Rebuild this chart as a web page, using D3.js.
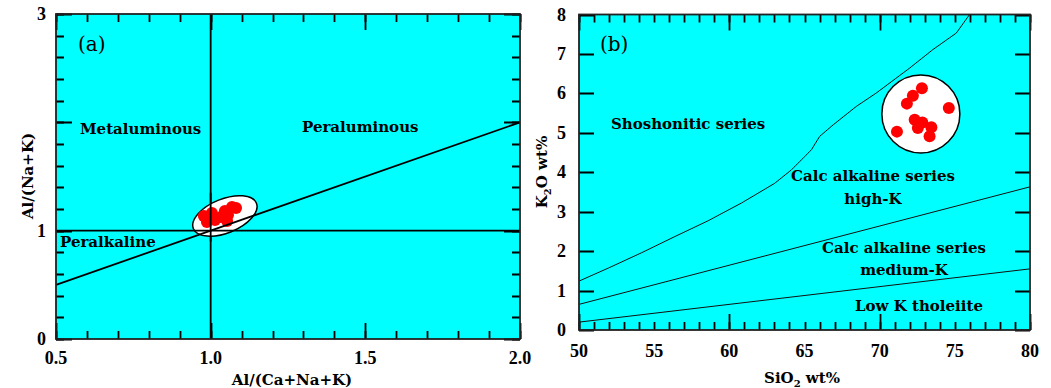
<!DOCTYPE html>
<html>
<head>
<meta charset="UTF-8">
<title>A/NK vs A/CNK and K2O vs SiO2</title>
<style>
  body { margin: 0; background: #fff; }
  text { font-family: "DejaVu Serif", "Liberation Serif", serif; fill: #000; }
  .lbl { font-weight: bold; font-size: 15px; }
  .tick-lbl { font-family: "Liberation Serif", serif; font-weight: bold; font-size: 18px; }
</style>
</head>
<body>
<script src="https://d3js.org/d3.v7.min.js"></script>
<svg width="1051" height="388"></svg>
<script>
// ---- panel (a) data: A/NK vs A/CNK ----
var aXTicks = [0.5, 1.0, 1.5, 2.0];
var aYTicks = [0, 1, 3];
var acnk = [0.978, 0.988, 1.004, 1.014, 1.033, 1.046, 1.056, 1.069, 1.082, 1.053];
var ank  = [1.136, 1.080, 1.163, 1.099, 1.126, 1.182, 1.145, 1.219, 1.210, 1.090];

// ---- panel (b) data: K2O vs SiO2 ----
var bXTicks = [50, 55, 60, 65, 70, 75, 80];
var bYTicks = [0, 1, 2, 3, 4, 5, 6, 7, 8];
var sio2 = [72.81, 72.21, 71.81, 74.60, 72.33, 72.84, 72.54, 73.44, 73.32, 71.15];
var k2o  = [6.13, 5.94, 5.74, 5.63, 5.33, 5.26, 5.12, 5.14, 4.91, 5.03];

// series boundaries
var lowKLine = [[50, 0.2], [80, 1.55]];
var mediumKLine = [[50, 0.65], [80, 3.63]];
var highKCurve = [[50, 1.24], [51.95, 1.57], [54.17, 1.96], [56.38, 2.37], [58.59, 2.77],
  [60.81, 3.22], [63.02, 3.72], [64.13, 4.06], [65.02, 4.40], [65.46, 4.57], [66.01, 4.91],
  [66.9, 5.20], [68.45, 5.67], [69.78, 6.01], [71.99, 6.64], [73.54, 7.11], [75.10, 7.53], [75.98, 8.0]];

var svg = d3.select("svg");
var cyan = "#00ffff";

// inward ticks on one side of a frame, drawn as one path
function ticks(g, scale, vals, len, side, at) {
  var p = d3.path();
  vals.forEach(function(d) {
    var v = Math.round(scale(d)) + 0.5;
    if (side == "b") { p.moveTo(v, at); p.lineTo(v, at - len); }
    if (side == "t") { p.moveTo(v, at); p.lineTo(v, at + len); }
    if (side == "l") { p.moveTo(at, v); p.lineTo(at + len, v); }
    if (side == "r") { p.moveTo(at, v); p.lineTo(at - len, v); }
  });
  g.append("path").attr("d", p.toString())
    .attr("fill", "none").attr("stroke", "#000").attr("stroke-width", 1.8);
}

// ================= panel (a) =================
var xA = d3.scaleLinear().domain([0.5, 2.0]).range([56, 520]);
var yA = d3.scaleLinear().domain([0, 3]).range([339, 14]);

var ga = svg.append("g");
ga.append("rect").attr("x", xA(0.5)).attr("y", yA(3))
  .attr("width", xA(2) - xA(0.5)).attr("height", yA(0) - yA(3))
  .attr("fill", cyan);

ga.append("line").attr("x1", xA(1)).attr("x2", xA(1)).attr("y1", yA(0)).attr("y2", yA(3))
  .attr("stroke", "#000").attr("stroke-width", 1.8);

// ellipse around samples
ga.append("ellipse")
  .attr("transform", "translate(" + xA(1.046) + "," + yA(1.136) + ") rotate(-22)")
  .attr("rx", 34).attr("ry", 17)
  .attr("fill", "#fff").attr("stroke", "#000").attr("stroke-width", 1.5);

ga.selectAll(".ptA").data(acnk).enter().append("circle")
  .attr("class", "ptA")
  .attr("cx", function(d) { return xA(d); })
  .attr("cy", function(d, i) { return yA(ank[i]); })
  .attr("r", 6).attr("fill", "#ff0000");

ga.append("line").attr("x1", xA(1)).attr("x2", xA(1)).attr("y1", yA(0.9)).attr("y2", yA(1.35))
  .attr("stroke", "#000").attr("stroke-width", 1.8);
ga.append("line").attr("x1", xA(0.5)).attr("x2", xA(2)).attr("y1", yA(0.5)).attr("y2", yA(2))
  .attr("stroke", "#000").attr("stroke-width", 1.8);
ga.append("line").attr("x1", xA(0.5)).attr("x2", xA(2)).attr("y1", yA(1)).attr("y2", yA(1))
  .attr("stroke", "#000").attr("stroke-width", 1.8);

var aMinorX = d3.range(0.5, 2.001, 0.1), aMajorX = [0.5, 1.0, 1.5, 2.0];
var aMinorY = d3.range(0, 3.001, 0.2), aMajorY = [0, 1, 2, 3];
ticks(ga, xA, aMinorX, 8, "b", yA(0));
ticks(ga, xA, aMajorX, 16, "b", yA(0));
ticks(ga, xA, aMinorX, 8, "t", yA(3));
ticks(ga, xA, aMajorX, 16, "t", yA(3));
ticks(ga, yA, aMinorY, 8, "l", xA(0.5));
ticks(ga, yA, aMajorY, 16, "l", xA(0.5));
ticks(ga, yA, aMinorY, 8, "r", xA(2));
ticks(ga, yA, aMajorY, 16, "r", xA(2));

ga.append("rect").attr("x", xA(0.5)).attr("y", yA(3))
  .attr("width", xA(2) - xA(0.5)).attr("height", yA(0) - yA(3))
  .attr("fill", "none").attr("stroke", "#222").attr("stroke-width", 1.8);

// tick labels
ga.selectAll(".xlA").data(aXTicks).enter().append("text")
  .attr("class", "tick-lbl").attr("text-anchor", "middle")
  .attr("x", function(d) { return xA(d); }).attr("y", 364)
  .text(function(d) { return d.toFixed(1); });
ga.selectAll(".ylA").data(aYTicks).enter().append("text")
  .attr("class", "tick-lbl").attr("text-anchor", "end")
  .attr("x", 46).attr("y", function(d) { return yA(d) + 6; })
  .text(function(d) { return d; });

// titles and labels
ga.append("text").attr("class", "lbl").attr("text-anchor", "middle")
  .attr("x", 292).attr("y", 385).text("Al/(Ca+Na+K)");
ga.append("text").attr("class", "lbl").attr("text-anchor", "middle")
  .attr("transform", "translate(33,176) rotate(-90)").text("Al/(Na+K)");
ga.append("text").attr("x", 78).attr("y", 51).style("font-size", "20px").text("(a)");
ga.append("text").attr("class", "lbl").attr("x", 80).attr("y", 134).text("Metaluminous");
ga.append("text").attr("class", "lbl").attr("x", 302).attr("y", 132).text("Peraluminous");
ga.append("text").attr("class", "lbl").attr("x", 60).attr("y", 247).text("Peralkaline");

// ================= panel (b) =================
var xB = d3.scaleLinear().domain([50, 80]).range([579, 1030]);
var yB = d3.scaleLinear().domain([0, 8]).range([330, 14.5]);

var gb = svg.append("g");
gb.append("clipPath").attr("id", "clipB").append("rect")
  .attr("x", xB(50)).attr("y", yB(8)).attr("width", xB(80) - xB(50)).attr("height", yB(0) - yB(8));
gb.append("rect").attr("x", xB(50)).attr("y", yB(8))
  .attr("width", xB(80) - xB(50)).attr("height", yB(0) - yB(8))
  .attr("fill", cyan);

var line = d3.line().x(function(d) { return xB(d[0]); }).y(function(d) { return yB(d[1]); });
[lowKLine, mediumKLine, highKCurve].forEach(function(pts) {
  gb.append("path").attr("d", line(pts)).attr("clip-path", "url(#clipB)")
    .attr("fill", "none").attr("stroke", "#111").attr("stroke-width", 1);
});

gb.append("circle").attr("cx", xB(72.74)).attr("cy", yB(5.48)).attr("r", 39)
  .attr("fill", "#fff").attr("stroke", "#000").attr("stroke-width", 1.5);
gb.selectAll(".ptB").data(sio2).enter().append("circle")
  .attr("class", "ptB")
  .attr("cx", function(d) { return xB(d); })
  .attr("cy", function(d, i) { return yB(k2o[i]); })
  .attr("r", 6).attr("fill", "#ff0000");

var bMinorX = d3.range(50, 80.001, 1), bMajorX = [50, 60, 70, 80];
ticks(gb, xB, bMinorX, 8, "b", yB(0));
ticks(gb, xB, bMajorX, 16, "b", yB(0));
ticks(gb, xB, bMinorX, 8, "t", yB(8));
ticks(gb, xB, bMajorX, 16, "t", yB(8));
ticks(gb, yB, bYTicks, 15, "l", xB(50));
ticks(gb, yB, bYTicks, 15, "r", xB(80));

gb.append("rect").attr("x", xB(50)).attr("y", yB(8))
  .attr("width", xB(80) - xB(50)).attr("height", yB(0) - yB(8))
  .attr("fill", "none").attr("stroke", "#222").attr("stroke-width", 1.8);

gb.selectAll(".xlB").data(bXTicks).enter().append("text")
  .attr("class", "tick-lbl").attr("text-anchor", "middle")
  .attr("x", function(d) { return xB(d); }).attr("y", 357)
  .text(function(d) { return d; });
gb.selectAll(".ylB").data(bYTicks).enter().append("text")
  .attr("class", "tick-lbl").attr("text-anchor", "end")
  .attr("x", 566).attr("y", function(d) { return yB(d) + 6; })
  .text(function(d) { return d; });

var tx = gb.append("text").attr("class", "lbl").attr("text-anchor", "middle")
  .attr("x", 802).attr("y", 383);
tx.append("tspan").text("SiO");
tx.append("tspan").attr("dy", 4).style("font-size", "10px").text("2");
tx.append("tspan").attr("dy", -4).text(" wt%");

var ty = gb.append("text").attr("class", "lbl").attr("text-anchor", "middle")
  .attr("transform", "translate(547,172) rotate(-90)");
ty.append("tspan").text("K");
ty.append("tspan").attr("dy", 4).style("font-size", "10px").text("2");
ty.append("tspan").attr("dy", -4).text("O wt%");

gb.append("text").attr("x", 600).attr("y", 51).style("font-size", "20px").text("(b)");
gb.append("text").attr("class", "lbl").attr("x", 611).attr("y", 129).text("Shoshonitic series");
gb.append("text").attr("class", "lbl").attr("text-anchor", "middle").attr("x", 873).attr("y", 181).text("Calc alkaline series");
gb.append("text").attr("class", "lbl").attr("text-anchor", "middle").attr("x", 873).attr("y", 204).text("high-K");
gb.append("text").attr("class", "lbl").attr("text-anchor", "middle").attr("x", 904).attr("y", 253).text("Calc alkaline series");
gb.append("text").attr("class", "lbl").attr("text-anchor", "middle").attr("x", 904).attr("y", 275).text("medium-K");
gb.append("text").attr("class", "lbl").attr("text-anchor", "middle").attr("x", 919).attr("y", 311).text("Low K tholeiite");
</script>
</body>
</html>
